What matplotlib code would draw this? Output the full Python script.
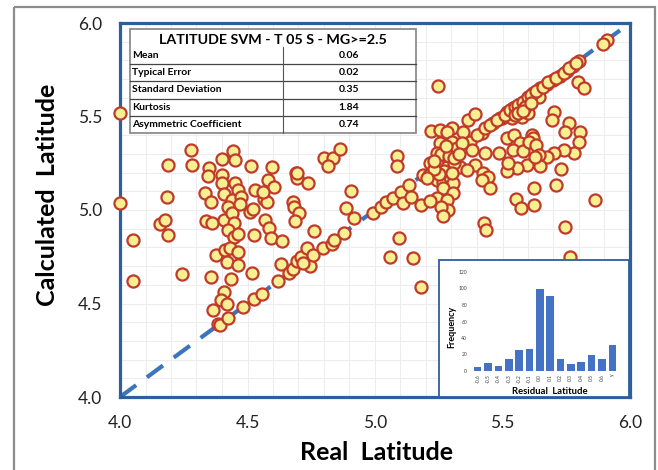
import numpy as np
import matplotlib
matplotlib.use("Agg")
import matplotlib.pyplot as plt
from matplotlib.patches import Rectangle

plt.rcParams['font.family'] = ['Lato', 'DejaVu Sans']

# ---------------- data ----------------
real_lat = [
    4.00, 4.00, 4.05, 4.05, 4.155, 4.175, 4.187, 4.184, 4.19, 4.243, 4.278, 4.281,
    4.334, 4.336, 4.348, 4.346, 4.355, 4.359, 4.375, 4.356, 4.364, 4.384, 4.393,
    4.400, 4.399, 4.401, 4.406, 4.409, 4.410, 4.420, 4.407, 4.396, 4.421, 4.422,
    4.444, 4.450, 4.451, 4.461, 4.438, 4.425, 4.440, 4.449, 4.425, 4.448, 4.431,
    4.461, 4.461, 4.434, 4.473, 4.471, 4.464, 4.484, 4.514, 4.510, 4.523, 4.530,
    4.525, 4.516, 4.525, 4.556, 4.581, 4.598, 4.602, 4.566, 4.575, 4.570, 4.584,
    4.592, 4.634, 4.619, 4.630, 4.664, 4.680, 4.684, 4.701, 4.686, 4.692, 4.694,
    4.738, 4.759, 4.680, 4.695, 4.711, 4.734, 4.747, 4.758, 4.719, 4.797, 4.830,
    4.840, 4.878, 4.800, 4.837, 4.817, 4.862, 4.888, 4.905, 4.917, 4.562, 4.693,
    4.991, 5.024, 5.044, 5.070, 5.102, 5.133, 5.086, 5.085, 5.108, 5.141, 5.179,
    5.093, 5.057, 5.150, 5.182,
    5.220, 5.248, 5.255, 5.300, 5.281, 5.346, 5.366, 5.394, 5.418, 5.464, 5.497,
    5.373, 5.379, 5.431, 5.486, 5.392, 5.425, 5.444, 5.418, 5.451, 5.255, 5.301,
    5.320, 5.275, 5.242, 5.216, 5.248, 5.281, 5.333, 5.360, 5.190, 5.213, 5.242,
    5.268, 5.294, 5.307, 5.268, 5.305, 5.244, 5.281, 5.288, 5.258, 5.268, 5.216,
    5.427, 5.435,
    5.911, 5.893, 5.799, 5.778, 5.752, 5.725, 5.699, 5.673, 5.647, 5.644, 5.621,
    5.595, 5.569, 5.542, 5.516, 5.490, 5.575, 5.536, 5.601, 5.795, 5.820, 5.702,
    5.693, 5.762, 5.745, 5.805, 5.800, 5.780, 5.741, 5.702, 5.673, 5.728, 5.710,
    5.622, 5.863, 5.553, 5.573, 5.622, 5.516, 5.545, 5.569, 5.542, 5.582, 5.614,
    5.621, 5.605, 5.631, 5.643, 5.647, 5.597, 5.558, 5.519, 5.523, 5.627, 5.746,
    5.763,
    5.400, 5.430, 5.450, 5.480, 5.510, 5.530, 5.550, 5.560, 5.580, 5.600, 5.610,
    5.630, 5.660, 5.680, 5.710, 5.740, 5.760, 5.790, 5.550, 5.590, 5.560, 5.580,
    5.610, 5.260, 5.290, 5.310, 5.270, 5.300, 5.320, 5.340, 5.280, 5.250, 5.230,
    5.310, 5.330, 5.230, 5.205,
]
calc_lat = [
    5.52, 5.04, 4.84, 4.62, 4.925, 4.947, 4.868, 5.071, 5.243, 4.658, 5.320, 5.243,
    5.093, 4.941, 5.223, 5.182, 5.043, 4.930, 4.759, 4.642, 4.465, 4.393, 4.386,
    5.271, 5.188, 5.145, 5.084, 4.948, 4.786, 4.720, 4.561, 4.519, 4.497, 4.421,
    5.313, 5.270, 5.146, 5.107, 5.053, 5.014, 4.986, 4.930, 4.893, 4.854, 4.797,
    4.777, 4.706, 4.629, 5.068, 5.030, 4.870, 4.481, 5.236, 4.991, 5.005, 5.106,
    4.867, 4.665, 4.523, 4.551, 5.163, 5.228, 5.123, 5.058, 5.045, 4.945, 4.902,
    4.852, 4.835, 4.622, 4.712, 4.663, 5.044, 5.016, 4.986, 4.941, 5.198, 5.170,
    5.143, 4.886, 4.682, 4.727, 4.748, 4.797, 4.700, 4.759, 4.715, 4.797, 4.820,
    4.840, 4.876, 5.277, 5.278, 5.236, 5.328, 5.009, 5.101, 4.958, 5.098, 5.196,
    4.986, 5.018, 5.044, 5.063, 5.098, 5.136, 5.289, 5.236, 5.039, 5.068, 5.027,
    4.849, 4.746, 4.741, 4.586,
    5.425, 5.664, 5.428, 5.441, 5.419, 5.415, 5.481, 5.515, 5.410, 5.464, 5.490,
    5.365, 5.321, 5.303, 5.306, 5.241, 5.196, 5.178, 5.160, 5.116, 5.357, 5.365,
    5.321, 5.276, 5.303, 5.250, 5.241, 5.232, 5.228, 5.214, 5.187, 5.187, 5.160,
    5.151, 5.178, 5.143, 5.116, 5.093, 5.062, 5.053, 5.000, 5.014, 4.968, 5.050,
    4.929, 4.893,
    5.911, 5.888, 5.797, 5.772, 5.745, 5.718, 5.695, 5.672, 5.651, 5.606, 5.624,
    5.594, 5.565, 5.544, 5.526, 5.490, 5.499, 5.494, 5.517, 5.683, 5.651, 5.522,
    5.481, 5.464, 5.415, 5.419, 5.362, 5.306, 5.319, 5.306, 5.282, 5.218, 5.134,
    5.116, 5.053, 5.059, 5.012, 5.025, 5.383, 5.401, 5.357, 5.321, 5.316, 5.401,
    5.383, 5.362, 5.348, 5.294, 5.235, 5.241, 5.226, 5.209, 5.250, 5.285, 4.911,
    4.750,
    5.400, 5.440, 5.455, 5.480, 5.510, 5.535, 5.550, 5.560, 5.580, 5.605, 5.615,
    5.635, 5.660, 5.685, 5.705, 5.735, 5.760, 5.785, 5.510, 5.550, 5.520, 5.530,
    5.570, 5.300, 5.290, 5.250, 5.210, 5.200, 5.330, 5.360, 5.340, 5.190, 5.220,
    5.280, 5.300, 5.260, 5.170,
]

axis_ticks = [4.0, 4.5, 5.0, 5.5, 6.0]
tick_labels = ["4.0", "4.5", "5.0", "5.5", "6.0"]

stat_title = "LATITUDE SVM - T 05 S - MG>=2.5"
stat_names = ["Mean", "Typical Error", "Standard Deviation", "Kurtosis",
              "Asymmetric Coefficient"]
stat_values = ["0.06", "0.02", "0.35", "1.84", "0.74"]

hist_bins = ["-0.6", "-0.5", "-0.4", "-0.3", "-0.2", "-0.1", "0.0", "0.1",
             "0.2", "0.3", "0.4", "0.5", "0.6", "y"]
hist_freq = [5, 10, 6, 14, 25, 27, 100, 91, 14, 8, 11, 20, 14, 31]
hist_yticks = [0, 20, 40, 60, 80, 100, 120]

# ---------------- figure ----------------
W, H = 658, 470
fig = plt.figure(figsize=(W / 100, H / 100), dpi=100)
fig.patch.set_facecolor("white")

BLUE = "#2E5E9E"

ax = fig.add_axes([120 / W, 1 - 397 / H, 510 / W, 374 / H], zorder=1)
ax.set_xlim(4.0, 6.0)
ax.set_ylim(4.0, 6.0)
ax.set_xticks(axis_ticks)
ax.set_xticklabels(tick_labels)
ax.set_yticks(axis_ticks)
ax.set_yticklabels(tick_labels)
ax.set_xticks(np.arange(4.0, 6.001, 0.1), minor=True)
ax.set_yticks(np.arange(4.0, 6.001, 0.1), minor=True)
ax.tick_params(which="both", length=0)
ax.tick_params(axis="x", pad=13, labelsize=12.5, colors="#222222")
ax.tick_params(axis="y", pad=13, labelsize=12.5, colors="#222222")
ax.grid(which="both", color="#EDEDED", lw=0.8, zorder=0)
ax.set_axisbelow(True)
for s in ax.spines.values():
    s.set_color(BLUE)
    s.set_linewidth(2.3)

ax.plot([axis_ticks[0], axis_ticks[-1]], [axis_ticks[0], axis_ticks[-1]],
        color="#3A75BE", lw=3.0, dashes=(4.8, 3.2), zorder=2,
        solid_capstyle="round")
ax.scatter(real_lat, calc_lat, s=76, facecolor="#F8EE92", edgecolor="#C0392B",
           linewidth=1.6, zorder=5, clip_on=False)

fig.text(48 / W, 1 - 195 / H, "Calculated  Latitude", rotation=90,
         ha="center", va="center", fontsize=18, fontweight="bold")
fig.text(377 / W, 1 - 452 / H, "Real  Latitude", ha="center", va="center",
         fontsize=18, fontweight="bold")

# ---------------- overlay (pixel coords) ----------------
ov = fig.add_axes([0, 0, 1, 1], zorder=2)
ov.set_xlim(0, W)
ov.set_ylim(H, 0)
ov.axis("off")
ov.patch.set_alpha(0)

# outer gray frame
ov.add_patch(Rectangle((14, 7), 641, 470, fill=False, edgecolor="#8C8C8C",
                       lw=1.6, clip_on=False))

# stats table
tl, tr, tt, tb = 130, 416, 29, 133
ov.add_patch(Rectangle((tl, tt), tr - tl, tb - tt, facecolor="white",
                       edgecolor="#8C8C8C", lw=1.3))
row_top = 47
row_h = (tb - row_top) / len(stat_names)
for i in range(1, len(stat_names)):
    yy = row_top + i * row_h
    ov.plot([tl, tr], [yy, yy], color="#444444", lw=0.9)
ov.plot([283, 283], [row_top, tb], color="#555555", lw=0.8)
ov.text((tl + tr) / 2, 39.5, stat_title, ha="center", va="center",
        fontsize=10.3, fontweight="bold")
for i, (n, v) in enumerate(zip(stat_names, stat_values)):
    yc = row_top + (i + 0.5) * row_h
    ov.text(tl + 2, yc, n, ha="left", va="center", fontsize=7.5,
            fontweight="bold")
    ov.text(349, yc, v, ha="center", va="center", fontsize=7.5,
            fontweight="bold")

# inset frame
ov.add_patch(Rectangle((439, 260), 190, 137, facecolor="white",
                       edgecolor=BLUE, lw=1.3))
ov.text(452, 327, "Frequency", rotation=90, ha="center", va="center",
        fontsize=6.5, fontweight="bold")
ov.text(550, 391, "Residual  Latitude", ha="center", va="center",
        fontsize=6.8, fontweight="bold")

# ---------------- inset histogram ----------------
ax2 = fig.add_axes([470 / W, 1 - 371 / H, 150 / W, 99 / H], zorder=3)
ax2.patch.set_alpha(0)
x = np.arange(len(hist_bins))
ax2.bar(x, hist_freq, width=0.72, color="#4472C4")
ax2.set_xlim(-0.75, len(hist_bins) - 0.25)
ax2.set_ylim(0, 120)
ax2.set_yticks(hist_yticks)
ax2.set_yticklabels([str(v) for v in hist_yticks])
ax2.set_xticks(x)
ax2.set_xticklabels(hist_bins, rotation=90)
ax2.tick_params(length=0, labelsize=3.6, colors="#404040", pad=2)
for s in ax2.spines.values():
    s.set_visible(False)

fig.savefig("out.png", dpi=100)
